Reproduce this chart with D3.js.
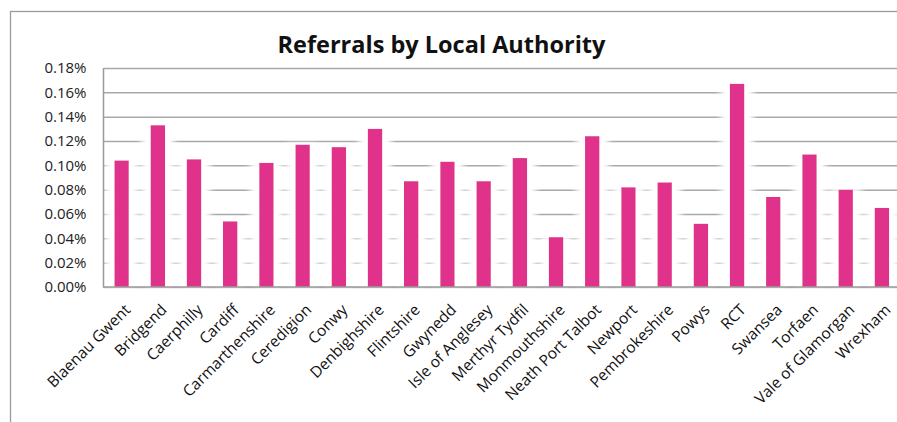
<!DOCTYPE html>
<html>
<head>
<meta charset="utf-8">
<script src="https://cdn.jsdelivr.net/npm/d3@7"></script>
<style>
  body { margin: 0; background: #fff; }
  text { font-family: "Open Sans", sans-serif; }
</style>
</head>
<body>
<div id="chart"></div>
<script>
// referral rate per local authority, in percent
const authorities = ["Blaenau Gwent", "Bridgend", "Caerphilly", "Cardiff", "Carmarthenshire",
  "Ceredigion", "Conwy", "Denbighshire", "Flintshire", "Gwynedd", "Isle of Anglesey",
  "Merthyr Tydfil", "Monmouthshire", "Neath Port Talbot", "Newport", "Pembrokeshire",
  "Powys", "RCT", "Swansea", "Torfaen", "Vale of Glamorgan", "Wrexham"];
const referralRates = [0.104, 0.133, 0.105, 0.054, 0.102, 0.117, 0.115, 0.130, 0.087, 0.103, 0.087,
  0.106, 0.041, 0.124, 0.082, 0.086, 0.052, 0.167, 0.074, 0.109, 0.080, 0.065];
const yTicks = [0, 0.02, 0.04, 0.06, 0.08, 0.10, 0.12, 0.14, 0.16, 0.18];

const width = 897, height = 422;
const margin = {top: 68, left: 103.5, bottom: 135};
const innerWidth = 796.5;
const innerHeight = height - margin.top - margin.bottom;

const data = authorities.map((name, i) => ({name, value: referralRates[i]}));

const svg = d3.select("#chart").append("svg")
  .attr("width", width)
  .attr("height", height);

// soft white halo round the bars, like the original's shadow effect
const glow = svg.append("defs").append("filter")
  .attr("id", "glow")
  .attr("x", "-150%").attr("y", "-10%")
  .attr("width", "400%").attr("height", "120%");
glow.append("feMorphology").attr("in", "SourceAlpha").attr("operator", "dilate")
  .attr("radius", "9 1").attr("result", "wide");
glow.append("feGaussianBlur").attr("in", "wide").attr("stdDeviation", "3 2").attr("result", "blur");
glow.append("feFlood").attr("flood-color", "#fff").attr("result", "white");
glow.append("feComposite").attr("in", "white").attr("in2", "blur").attr("operator", "in").attr("result", "halo");
const merge = glow.append("feMerge");
merge.append("feMergeNode").attr("in", "halo");
merge.append("feMergeNode").attr("in", "SourceGraphic");

// outer chart frame
svg.append("rect")
  .attr("x", 10.5).attr("y", 11.5)
  .attr("width", 905).attr("height", 440)
  .attr("fill", "none")
  .attr("stroke", "#9a9a9a")
  .attr("stroke-width", 1.3);

svg.append("text")
  .attr("x", 441.5).attr("y", 53)
  .attr("text-anchor", "middle")
  .attr("font-size", 23.5)
  .attr("font-weight", "bold")
  .attr("fill", "#111")
  .text("Referrals by Local Authority");

const innerChart = svg.append("g")
  .attr("transform", `translate(${margin.left}, ${margin.top})`);

const xScale = d3.scaleBand()
  .domain(authorities)
  .range([0, innerWidth])
  .paddingInner(0.6)
  .paddingOuter(0.3);

const yScale = d3.scaleLinear()
  .domain([0, 0.18])
  .range([innerHeight, 0]);

// gridlines + y labels
const yAxis = innerChart.append("g")
  .call(d3.axisLeft(yScale)
    .tickValues(yTicks)
    .tickSize(-innerWidth)
    .tickPadding(17)
    .tickFormat(d => d3.format(".2f")(d) + "%"));
yAxis.select(".domain").remove();
yAxis.selectAll(".tick line")
  .attr("stroke", "#a8a8a8")
  .attr("stroke-width", 1.5);
yAxis.selectAll(".tick text")
  .attr("font-size", 15)
  .attr("fill", "#222");

innerChart.selectAll(".bar")
  .data(data)
  .join("rect")
    .attr("class", "bar")
    .attr("x", d => xScale(d.name))
    .attr("y", d => yScale(d.value))
    .attr("width", xScale.bandwidth())
    .attr("height", d => innerHeight - yScale(d.value))
    .attr("fill", "#e0338a")
    .attr("filter", "url(#glow)");

// plot area frame (left + bottom)
innerChart.append("path")
  .attr("d", `M0,0V${innerHeight}H${innerWidth}`)
  .attr("fill", "none")
  .attr("stroke", "#9a9a9a")
  .attr("stroke-width", 1.5);

const xAxis = innerChart.append("g")
  .attr("transform", `translate(0, ${innerHeight})`)
  .call(d3.axisBottom(xScale).tickSize(0));
xAxis.select(".domain").remove();
xAxis.selectAll(".tick text")
  .attr("x", 0).attr("y", 0)
  .attr("dy", "0.71em")
  .attr("text-anchor", "end")
  .attr("transform", "translate(2, 16) rotate(-45)")
  .attr("font-size", 15.5)
  .attr("fill", "#111");
</script>
</body>
</html>
